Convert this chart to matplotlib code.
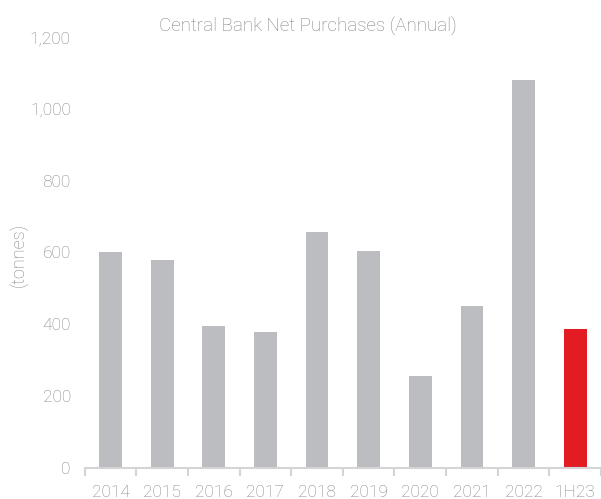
import matplotlib
matplotlib.use("Agg")
import matplotlib.pyplot as plt

# Central bank net gold purchases, tonnes
categories = ["2014", "2015", "2016", "2017", "2018", "2019", "2020", "2021", "2022", "1H23"]
tonnes = [601, 580, 395, 379, 656, 605, 255, 450, 1082, 387]
bar_colors = ["#BCBDC1"] * 9 + ["#E31B23"]
y_ticks = [0, 200, 400, 600, 800, 1000, 1200]
y_tick_labels = ["0", "200", "400", "600", "800", "1,000", "1,200"]

text_color = "#838383"
plt.rcParams["font.family"] = ["Roboto", "DejaVu Sans"]

fig = plt.figure(figsize=(6.01, 4.99), dpi=100)
ax = fig.add_axes([84.7 / 601, 31.3 / 499, 516.3 / 601, 430.4 / 499])

x = range(len(categories))
ax.bar(x, tonnes, width=0.44, color=bar_colors, zorder=2)

ax.set_xlim(-0.5, -0.5 + 516.3 / 52)
ax.set_ylim(0, 1200)

ax.set_yticks(y_ticks)
ax.set_yticklabels(y_tick_labels, fontsize=12.5, color=text_color, fontweight="light")
ax.tick_params(axis="y", length=0, pad=10)

ax.set_xticks(list(x))
ax.set_xticklabels(categories, fontsize=12.5, color=text_color, fontweight="light")
ax.set_xticks([i - 0.5 for i in range(len(categories) + 1)], minor=True)
ax.tick_params(axis="x", which="major", length=0, pad=12.5)
ax.tick_params(axis="x", which="minor", length=6, width=1.5, color="#D4D4D4", direction="out")

for side in ["top", "right", "left"]:
    ax.spines[side].set_visible(False)
ax.spines["bottom"].set_color("#D4D4D4")
ax.spines["bottom"].set_linewidth(1.5)

fig.text(308 / 601, 1 - 26 / 499, "Central Bank Net Purchases (Annual)",
         ha="center", va="center", fontsize=13.5, color=text_color, fontweight="light")
fig.text(18 / 601, 1 - 255 / 499, "(tonnes)", rotation=90,
         ha="center", va="center", fontsize=13, color=text_color, fontweight="light")

fig.savefig("out.png", dpi=100)
